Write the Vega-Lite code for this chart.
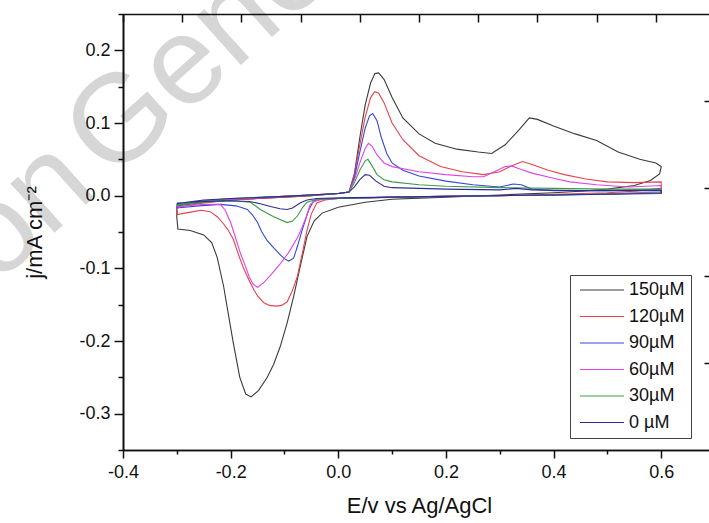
{
  "$schema": "https://vega.github.io/schema/vega-lite/v6.json",
  "width": 586,
  "height": 436,
  "autosize": {"type": "none"},
  "padding": {"left": 123, "top": 14, "right": 0, "bottom": 73},
  "background": "white",
  "config": {
    "view": {"stroke": null},
    "font": "Liberation Sans",
    "axis": {"grid": false, "domain": true, "domainColor": "#111", "tickColor": "#111", "labelColor": "#111", "titleColor": "#111", "domainWidth": 1.6, "tickWidth": 1.5, "labelFont": "Liberation Sans", "titleFont": "Liberation Sans", "titleFontWeight": "normal", "zindex": 1}
  },
  "datasets": {
    "wm": [{"label": "on", "E": -0.635, "j": -0.1229}, {"label": "Gener", "E": -0.4229, "j": 0.0185}],
    "cv": [
      {"c":"150µM","i":0,"E":-0.30,"j":-0.014},{"c":"150µM","i":1,"E":-0.25,"j":-0.009},{"c":"150µM","i":2,"E":-0.20,"j":-0.006},{"c":"150µM","i":3,"E":-0.15,"j":-0.004},{"c":"150µM","i":4,"E":-0.10,"j":-0.002},{"c":"150µM","i":5,"E":-0.05,"j":0.000},{"c":"150µM","i":6,"E":0.00,"j":0.003},{"c":"150µM","i":7,"E":0.02,"j":0.005},{"c":"150µM","i":8,"E":0.03,"j":0.030},{"c":"150µM","i":9,"E":0.04,"j":0.080},{"c":"150µM","i":10,"E":0.05,"j":0.125},{"c":"150µM","i":11,"E":0.06,"j":0.155},{"c":"150µM","i":12,"E":0.068,"j":0.168},{"c":"150µM","i":13,"E":0.075,"j":0.169},{"c":"150µM","i":14,"E":0.085,"j":0.160},{"c":"150µM","i":15,"E":0.10,"j":0.135},{"c":"150µM","i":16,"E":0.12,"j":0.107},{"c":"150µM","i":17,"E":0.15,"j":0.085},{"c":"150µM","i":18,"E":0.18,"j":0.072},{"c":"150µM","i":19,"E":0.22,"j":0.064},{"c":"150µM","i":20,"E":0.26,"j":0.060},{"c":"150µM","i":21,"E":0.285,"j":0.058},{"c":"150µM","i":22,"E":0.31,"j":0.070},{"c":"150µM","i":23,"E":0.335,"j":0.090},{"c":"150µM","i":24,"E":0.355,"j":0.107},{"c":"150µM","i":25,"E":0.37,"j":0.105},{"c":"150µM","i":26,"E":0.40,"j":0.096},{"c":"150µM","i":27,"E":0.44,"j":0.085},{"c":"150µM","i":28,"E":0.48,"j":0.076},{"c":"150µM","i":29,"E":0.52,"j":0.060},{"c":"150µM","i":30,"E":0.56,"j":0.050},{"c":"150µM","i":31,"E":0.59,"j":0.045},{"c":"150µM","i":32,"E":0.60,"j":0.040},{"c":"150µM","i":33,"E":0.597,"j":0.030},{"c":"150µM","i":34,"E":0.58,"j":0.021},{"c":"150µM","i":35,"E":0.55,"j":0.014},{"c":"150µM","i":36,"E":0.50,"j":0.009},{"c":"150µM","i":37,"E":0.45,"j":0.006},{"c":"150µM","i":38,"E":0.40,"j":0.004},{"c":"150µM","i":39,"E":0.30,"j":0.001},{"c":"150µM","i":40,"E":0.20,"j":-0.002},{"c":"150µM","i":41,"E":0.10,"j":-0.005},{"c":"150µM","i":42,"E":0.05,"j":-0.009},{"c":"150µM","i":43,"E":0.00,"j":-0.016},{"c":"150µM","i":44,"E":-0.03,"j":-0.024},{"c":"150µM","i":45,"E":-0.045,"j":-0.035},{"c":"150µM","i":46,"E":-0.058,"j":-0.056},{"c":"150µM","i":47,"E":-0.07,"j":-0.095},{"c":"150µM","i":48,"E":-0.083,"j":-0.139},{"c":"150µM","i":49,"E":-0.095,"j":-0.175},{"c":"150µM","i":50,"E":-0.108,"j":-0.208},{"c":"150µM","i":51,"E":-0.12,"j":-0.232},{"c":"150µM","i":52,"E":-0.132,"j":-0.250},{"c":"150µM","i":53,"E":-0.148,"j":-0.268},{"c":"150µM","i":54,"E":-0.162,"j":-0.277},{"c":"150µM","i":55,"E":-0.172,"j":-0.273},{"c":"150µM","i":56,"E":-0.183,"j":-0.250},{"c":"150µM","i":57,"E":-0.195,"j":-0.203},{"c":"150µM","i":58,"E":-0.205,"j":-0.160},{"c":"150µM","i":59,"E":-0.213,"j":-0.125},{"c":"150µM","i":60,"E":-0.225,"j":-0.085},{"c":"150µM","i":61,"E":-0.235,"j":-0.065},{"c":"150µM","i":62,"E":-0.25,"j":-0.054},{"c":"150µM","i":63,"E":-0.275,"j":-0.048},{"c":"150µM","i":64,"E":-0.298,"j":-0.046},{"c":"150µM","i":65,"E":-0.30,"j":-0.030},{"c":"150µM","i":66,"E":-0.30,"j":-0.014},

      {"c":"120µM","i":0,"E":-0.30,"j":-0.016},{"c":"120µM","i":1,"E":-0.25,"j":-0.010},{"c":"120µM","i":2,"E":-0.20,"j":-0.006},{"c":"120µM","i":3,"E":-0.15,"j":-0.004},{"c":"120µM","i":4,"E":-0.10,"j":-0.002},{"c":"120µM","i":5,"E":-0.05,"j":0.000},{"c":"120µM","i":6,"E":0.00,"j":0.003},{"c":"120µM","i":7,"E":0.02,"j":0.005},{"c":"120µM","i":8,"E":0.03,"j":0.030},{"c":"120µM","i":9,"E":0.04,"j":0.070},{"c":"120µM","i":10,"E":0.05,"j":0.108},{"c":"120µM","i":11,"E":0.06,"j":0.135},{"c":"120µM","i":12,"E":0.068,"j":0.143},{"c":"120µM","i":13,"E":0.075,"j":0.141},{"c":"120µM","i":14,"E":0.085,"j":0.128},{"c":"120µM","i":15,"E":0.10,"j":0.100},{"c":"120µM","i":16,"E":0.12,"j":0.077},{"c":"120µM","i":17,"E":0.15,"j":0.055},{"c":"120µM","i":18,"E":0.19,"j":0.040},{"c":"120µM","i":19,"E":0.23,"j":0.033},{"c":"120µM","i":20,"E":0.27,"j":0.029},{"c":"120µM","i":21,"E":0.30,"j":0.033},{"c":"120µM","i":22,"E":0.325,"j":0.042},{"c":"120µM","i":23,"E":0.342,"j":0.047},{"c":"120µM","i":24,"E":0.36,"j":0.043},{"c":"120µM","i":25,"E":0.39,"j":0.035},{"c":"120µM","i":26,"E":0.42,"j":0.029},{"c":"120µM","i":27,"E":0.46,"j":0.023},{"c":"120µM","i":28,"E":0.50,"j":0.019},{"c":"120µM","i":29,"E":0.55,"j":0.018},{"c":"120µM","i":30,"E":0.60,"j":0.019},{"c":"120µM","i":31,"E":0.60,"j":0.010},{"c":"120µM","i":32,"E":0.55,"j":0.006},{"c":"120µM","i":33,"E":0.50,"j":0.004},{"c":"120µM","i":34,"E":0.40,"j":0.002},{"c":"120µM","i":35,"E":0.30,"j":0.000},{"c":"120µM","i":36,"E":0.20,"j":-0.001},{"c":"120µM","i":37,"E":0.10,"j":-0.002},{"c":"120µM","i":38,"E":0.05,"j":-0.003},{"c":"120µM","i":39,"E":0.00,"j":-0.004},{"c":"120µM","i":40,"E":-0.025,"j":-0.006},{"c":"120µM","i":41,"E":-0.04,"j":-0.010},{"c":"120µM","i":42,"E":-0.05,"j":-0.025},{"c":"120µM","i":43,"E":-0.058,"j":-0.047},{"c":"120µM","i":44,"E":-0.067,"j":-0.080},{"c":"120µM","i":45,"E":-0.076,"j":-0.111},{"c":"120µM","i":46,"E":-0.086,"j":-0.132},{"c":"120µM","i":47,"E":-0.095,"j":-0.146},{"c":"120µM","i":48,"E":-0.105,"j":-0.151},{"c":"120µM","i":49,"E":-0.115,"j":-0.152},{"c":"120µM","i":50,"E":-0.128,"j":-0.151},{"c":"120µM","i":51,"E":-0.139,"j":-0.147},{"c":"120µM","i":52,"E":-0.150,"j":-0.138},{"c":"120µM","i":53,"E":-0.157,"j":-0.129},{"c":"120µM","i":54,"E":-0.166,"j":-0.116},{"c":"120µM","i":55,"E":-0.176,"j":-0.100},{"c":"120µM","i":56,"E":-0.186,"j":-0.080},{"c":"120µM","i":57,"E":-0.195,"j":-0.060},{"c":"120µM","i":58,"E":-0.205,"j":-0.047},{"c":"120µM","i":59,"E":-0.213,"j":-0.039},{"c":"120µM","i":60,"E":-0.225,"j":-0.029},{"c":"120µM","i":61,"E":-0.238,"j":-0.022},{"c":"120µM","i":62,"E":-0.255,"j":-0.020},{"c":"120µM","i":63,"E":-0.269,"j":-0.022},{"c":"120µM","i":64,"E":-0.285,"j":-0.024},{"c":"120µM","i":65,"E":-0.299,"j":-0.026},{"c":"120µM","i":66,"E":-0.30,"j":-0.016},

      {"c":"90µM","i":0,"E":-0.30,"j":-0.013},{"c":"90µM","i":1,"E":-0.25,"j":-0.008},{"c":"90µM","i":2,"E":-0.20,"j":-0.005},{"c":"90µM","i":3,"E":-0.15,"j":-0.003},{"c":"90µM","i":4,"E":-0.10,"j":-0.001},{"c":"90µM","i":5,"E":-0.05,"j":0.001},{"c":"90µM","i":6,"E":0.00,"j":0.003},{"c":"90µM","i":7,"E":0.02,"j":0.005},{"c":"90µM","i":8,"E":0.03,"j":0.025},{"c":"90µM","i":9,"E":0.04,"j":0.060},{"c":"90µM","i":10,"E":0.05,"j":0.093},{"c":"90µM","i":11,"E":0.058,"j":0.110},{"c":"90µM","i":12,"E":0.064,"j":0.113},{"c":"90µM","i":13,"E":0.072,"j":0.103},{"c":"90µM","i":14,"E":0.08,"j":0.080},{"c":"90µM","i":15,"E":0.09,"j":0.058},{"c":"90µM","i":16,"E":0.10,"j":0.045},{"c":"90µM","i":17,"E":0.12,"j":0.035},{"c":"90µM","i":18,"E":0.15,"j":0.027},{"c":"90µM","i":19,"E":0.20,"j":0.020},{"c":"90µM","i":20,"E":0.25,"j":0.015},{"c":"90µM","i":21,"E":0.30,"j":0.012},{"c":"90µM","i":22,"E":0.325,"j":0.016},{"c":"90µM","i":23,"E":0.34,"j":0.015},{"c":"90µM","i":24,"E":0.36,"j":0.009},{"c":"90µM","i":25,"E":0.40,"j":0.007},{"c":"90µM","i":26,"E":0.50,"j":0.007},{"c":"90µM","i":27,"E":0.60,"j":0.009},{"c":"90µM","i":28,"E":0.60,"j":0.004},{"c":"90µM","i":29,"E":0.50,"j":0.002},{"c":"90µM","i":30,"E":0.40,"j":0.001},{"c":"90µM","i":31,"E":0.30,"j":0.000},{"c":"90µM","i":32,"E":0.20,"j":-0.001},{"c":"90µM","i":33,"E":0.10,"j":-0.002},{"c":"90µM","i":34,"E":0.00,"j":-0.004},{"c":"90µM","i":35,"E":-0.03,"j":-0.005},{"c":"90µM","i":36,"E":-0.046,"j":-0.007},{"c":"90µM","i":37,"E":-0.055,"j":-0.020},{"c":"90µM","i":38,"E":-0.067,"j":-0.047},{"c":"90µM","i":39,"E":-0.076,"j":-0.070},{"c":"90µM","i":40,"E":-0.083,"j":-0.086},{"c":"90µM","i":41,"E":-0.092,"j":-0.090},{"c":"90µM","i":42,"E":-0.100,"j":-0.087},{"c":"90µM","i":43,"E":-0.108,"j":-0.081},{"c":"90µM","i":44,"E":-0.120,"j":-0.072},{"c":"90µM","i":45,"E":-0.132,"j":-0.062},{"c":"90µM","i":46,"E":-0.142,"j":-0.050},{"c":"90µM","i":47,"E":-0.150,"j":-0.037},{"c":"90µM","i":48,"E":-0.160,"j":-0.026},{"c":"90µM","i":49,"E":-0.169,"j":-0.019},{"c":"90µM","i":50,"E":-0.19,"j":-0.014},{"c":"90µM","i":51,"E":-0.219,"j":-0.012},{"c":"90µM","i":52,"E":-0.26,"j":-0.014},{"c":"90µM","i":53,"E":-0.299,"j":-0.017},{"c":"90µM","i":54,"E":-0.30,"j":-0.013},

      {"c":"60µM","i":0,"E":-0.30,"j":-0.012},{"c":"60µM","i":1,"E":-0.25,"j":-0.007},{"c":"60µM","i":2,"E":-0.20,"j":-0.005},{"c":"60µM","i":3,"E":-0.15,"j":-0.003},{"c":"60µM","i":4,"E":-0.10,"j":-0.001},{"c":"60µM","i":5,"E":-0.05,"j":0.001},{"c":"60µM","i":6,"E":0.00,"j":0.003},{"c":"60µM","i":7,"E":0.02,"j":0.005},{"c":"60µM","i":8,"E":0.03,"j":0.022},{"c":"60µM","i":9,"E":0.04,"j":0.045},{"c":"60µM","i":10,"E":0.05,"j":0.065},{"c":"60µM","i":11,"E":0.056,"j":0.072},{"c":"60µM","i":12,"E":0.063,"j":0.068},{"c":"60µM","i":13,"E":0.072,"j":0.056},{"c":"60µM","i":14,"E":0.085,"j":0.045},{"c":"60µM","i":15,"E":0.10,"j":0.040},{"c":"60µM","i":16,"E":0.15,"j":0.033},{"c":"60µM","i":17,"E":0.20,"j":0.029},{"c":"60µM","i":18,"E":0.25,"j":0.026},{"c":"60µM","i":19,"E":0.27,"j":0.026},{"c":"60µM","i":20,"E":0.29,"j":0.033},{"c":"60µM","i":21,"E":0.31,"j":0.040},{"c":"60µM","i":22,"E":0.322,"j":0.041},{"c":"60µM","i":23,"E":0.34,"j":0.036},{"c":"60µM","i":24,"E":0.36,"j":0.031},{"c":"60µM","i":25,"E":0.40,"j":0.024},{"c":"60µM","i":26,"E":0.43,"j":0.019},{"c":"60µM","i":27,"E":0.48,"j":0.015},{"c":"60µM","i":28,"E":0.54,"j":0.012},{"c":"60µM","i":29,"E":0.60,"j":0.014},{"c":"60µM","i":30,"E":0.60,"j":0.005},{"c":"60µM","i":31,"E":0.50,"j":0.003},{"c":"60µM","i":32,"E":0.40,"j":0.001},{"c":"60µM","i":33,"E":0.30,"j":0.000},{"c":"60µM","i":34,"E":0.20,"j":-0.001},{"c":"60µM","i":35,"E":0.10,"j":-0.002},{"c":"60µM","i":36,"E":0.00,"j":-0.004},{"c":"60µM","i":37,"E":-0.03,"j":-0.005},{"c":"60µM","i":38,"E":-0.045,"j":-0.008},{"c":"60µM","i":39,"E":-0.052,"j":-0.012},{"c":"60µM","i":40,"E":-0.060,"j":-0.030},{"c":"60µM","i":41,"E":-0.068,"j":-0.045},{"c":"60µM","i":42,"E":-0.076,"j":-0.058},{"c":"60µM","i":43,"E":-0.092,"j":-0.078},{"c":"60µM","i":44,"E":-0.108,"j":-0.094},{"c":"60µM","i":45,"E":-0.124,"j":-0.108},{"c":"60µM","i":46,"E":-0.139,"j":-0.120},{"c":"60µM","i":47,"E":-0.150,"j":-0.126},{"c":"60µM","i":48,"E":-0.158,"j":-0.122},{"c":"60µM","i":49,"E":-0.165,"j":-0.113},{"c":"60µM","i":50,"E":-0.172,"j":-0.098},{"c":"60µM","i":51,"E":-0.182,"j":-0.079},{"c":"60µM","i":52,"E":-0.190,"j":-0.060},{"c":"60µM","i":53,"E":-0.200,"j":-0.037},{"c":"60µM","i":54,"E":-0.210,"j":-0.020},{"c":"60µM","i":55,"E":-0.219,"j":-0.012},{"c":"60µM","i":56,"E":-0.25,"j":-0.012},{"c":"60µM","i":57,"E":-0.299,"j":-0.015},{"c":"60µM","i":58,"E":-0.30,"j":-0.012},

      {"c":"30µM","i":0,"E":-0.30,"j":-0.012},{"c":"30µM","i":1,"E":-0.25,"j":-0.007},{"c":"30µM","i":2,"E":-0.20,"j":-0.004},{"c":"30µM","i":3,"E":-0.10,"j":-0.001},{"c":"30µM","i":4,"E":0.00,"j":0.003},{"c":"30µM","i":5,"E":0.02,"j":0.005},{"c":"30µM","i":6,"E":0.03,"j":0.018},{"c":"30µM","i":7,"E":0.04,"j":0.035},{"c":"30µM","i":8,"E":0.05,"j":0.048},{"c":"30µM","i":9,"E":0.055,"j":0.050},{"c":"30µM","i":10,"E":0.062,"j":0.042},{"c":"30µM","i":11,"E":0.072,"j":0.029},{"c":"30µM","i":12,"E":0.085,"j":0.022},{"c":"30µM","i":13,"E":0.10,"j":0.019},{"c":"30µM","i":14,"E":0.15,"j":0.015},{"c":"30µM","i":15,"E":0.20,"j":0.013},{"c":"30µM","i":16,"E":0.30,"j":0.011},{"c":"30µM","i":17,"E":0.40,"j":0.010},{"c":"30µM","i":18,"E":0.50,"j":0.009},{"c":"30µM","i":19,"E":0.60,"j":0.009},{"c":"30µM","i":20,"E":0.60,"j":0.004},{"c":"30µM","i":21,"E":0.40,"j":0.001},{"c":"30µM","i":22,"E":0.20,"j":-0.001},{"c":"30µM","i":23,"E":0.00,"j":-0.004},{"c":"30µM","i":24,"E":-0.04,"j":-0.005},{"c":"30µM","i":25,"E":-0.058,"j":-0.009},{"c":"30µM","i":26,"E":-0.066,"j":-0.016},{"c":"30µM","i":27,"E":-0.076,"j":-0.028},{"c":"30µM","i":28,"E":-0.085,"j":-0.035},{"c":"30µM","i":29,"E":-0.095,"j":-0.037},{"c":"30µM","i":30,"E":-0.12,"j":-0.029},{"c":"30µM","i":31,"E":-0.145,"j":-0.019},{"c":"30µM","i":32,"E":-0.163,"j":-0.009},{"c":"30µM","i":33,"E":-0.20,"j":-0.007},{"c":"30µM","i":34,"E":-0.25,"j":-0.009},{"c":"30µM","i":35,"E":-0.299,"j":-0.013},{"c":"30µM","i":36,"E":-0.30,"j":-0.012},

      {"c":"0 µM","i":0,"E":-0.30,"j":-0.011},{"c":"0 µM","i":1,"E":-0.25,"j":-0.006},{"c":"0 µM","i":2,"E":-0.20,"j":-0.004},{"c":"0 µM","i":3,"E":-0.10,"j":-0.001},{"c":"0 µM","i":4,"E":0.00,"j":0.003},{"c":"0 µM","i":5,"E":0.02,"j":0.005},{"c":"0 µM","i":6,"E":0.03,"j":0.012},{"c":"0 µM","i":7,"E":0.04,"j":0.022},{"c":"0 µM","i":8,"E":0.05,"j":0.029},{"c":"0 µM","i":9,"E":0.058,"j":0.028},{"c":"0 µM","i":10,"E":0.07,"j":0.020},{"c":"0 µM","i":11,"E":0.085,"j":0.013},{"c":"0 µM","i":12,"E":0.10,"j":0.011},{"c":"0 µM","i":13,"E":0.20,"j":0.009},{"c":"0 µM","i":14,"E":0.30,"j":0.008},{"c":"0 µM","i":15,"E":0.33,"j":0.010},{"c":"0 µM","i":16,"E":0.36,"j":0.008},{"c":"0 µM","i":17,"E":0.45,"j":0.007},{"c":"0 µM","i":18,"E":0.60,"j":0.007},{"c":"0 µM","i":19,"E":0.60,"j":0.003},{"c":"0 µM","i":20,"E":0.40,"j":0.001},{"c":"0 µM","i":21,"E":0.20,"j":-0.001},{"c":"0 µM","i":22,"E":0.00,"j":-0.003},{"c":"0 µM","i":23,"E":-0.04,"j":-0.004},{"c":"0 µM","i":24,"E":-0.058,"j":-0.006},{"c":"0 µM","i":25,"E":-0.071,"j":-0.010},{"c":"0 µM","i":26,"E":-0.085,"j":-0.017},{"c":"0 µM","i":27,"E":-0.095,"j":-0.019},{"c":"0 µM","i":28,"E":-0.108,"j":-0.018},{"c":"0 µM","i":29,"E":-0.126,"j":-0.015},{"c":"0 µM","i":30,"E":-0.145,"j":-0.011},{"c":"0 µM","i":31,"E":-0.165,"j":-0.008},{"c":"0 µM","i":32,"E":-0.20,"j":-0.007},{"c":"0 µM","i":33,"E":-0.25,"j":-0.008},{"c":"0 µM","i":34,"E":-0.299,"j":-0.010},{"c":"0 µM","i":35,"E":-0.30,"j":-0.011}
    ]
  },
  "layer": [
    {
      "data": {"name": "wm"},
      "mark": {"type": "text", "align": "left", "baseline": "alphabetic", "angle": 318, "fontSize": 125, "font": "Liberation Sans", "color": "#d6d6d6", "clip": false},
      "encoding": {
        "x": {"field": "E", "type": "quantitative", "axis": null},
        "y": {"field": "j", "type": "quantitative", "axis": null},
        "text": {"field": "label"}
      }
    },
    {
      "data": {"name": "cv"},
      "mark": {"type": "line", "strokeWidth": 1.1, "clip": false},
      "encoding": {
        "x": {
          "field": "E", "type": "quantitative",
          "scale": {"domain": [-0.4, 0.6888], "nice": false, "zero": false},
          "axis": {
            "orient": "bottom",
            "zindex": 2,
            "domain": true,
            "title": "E/v vs Ag/AgCl",
            "titleFontSize": 22,
            "titlePadding": 14,
            "titleX": 296,
            "titleAnchor": "middle",
            "values": [-0.4, -0.2, 0, 0.2, 0.4, 0.6],
            "tickSize": 8,
            "labelExpr": "replace(format(datum.value, '.1f'), '\u2212', '-')",
            "labelFontSize": 18,
            "labelPadding": 5,
            "labelFlush": false,
            "labelOverlap": false
          }
        },
        "y": {
          "field": "j", "type": "quantitative",
          "scale": {"domain": [-0.35, 0.25], "nice": false, "zero": false},
          "axis": {
            "orient": "left",
            "zindex": 2,
            "domain": true,
            "title": "j/mA cm\u207b\u00b2",
            "titleFontSize": 22,
            "titlePadding": 32,
            "values": [-0.3, -0.2, -0.1, 0, 0.1, 0.2],
            "tickSize": 9,
            "labelExpr": "replace(format(datum.value, '.1f'), '\u2212', '-')",
            "labelFontSize": 18,
            "labelPadding": 4,
            "labelFlush": false,
            "labelOverlap": false
          }
        },
        "color": {
          "field": "c", "type": "nominal",
          "scale": {
            "domain": ["150µM", "120µM", "90µM", "60µM", "30µM", "0 µM"],
            "range": ["#3a3a3a", "#e8424a", "#3346de", "#e044e6", "#3c9c44", "#2e2e92"]
          },
          "legend": {
            "orient": "none",
            "legendX": 447,
            "legendY": 261,
            "title": null,
            "labelFontSize": 18,
            "labelFont": "Liberation Sans",
            "labelColor": "#111",
            "symbolType": "M-1,0H7.8",
            "symbolSize": 100,
            "symbolStrokeWidth": 1,
            "labelOffset": 35,
            "rowPadding": 8.5,
            "padding": 6,
            "strokeColor": "#444",
            "fillColor": "white",
            "zindex": 3
          }
        },
        "order": {"field": "i", "type": "quantitative"}
      }
    },
    {
      "data": {"name": "cv"},
      "mark": {"type": "line", "opacity": 0},
      "encoding": {
        "x": {
          "field": "E", "type": "quantitative",
          "axis": {"orient": "top", "zindex": 2, "title": null, "labels": false, "values": [-0.4, -0.29, -0.18, -0.07, 0.04, 0.15, 0.26, 0.37, 0.48, 0.59], "tickSize": -8, "domain": true}
        },
        "y": {
          "field": "j", "type": "quantitative",
          "axis": {"orient": "right", "zindex": 2, "title": null, "labels": false, "values": [0.13, 0.01, -0.11, -0.23], "tickSize": -5, "domain": false}
        },
        "detail": {"field": "c"},
        "order": {"field": "i", "type": "quantitative"}
      }
    },
    {
      "data": {"name": "cv"},
      "mark": {"type": "line", "opacity": 0},
      "encoding": {
        "x": {
          "field": "E", "type": "quantitative",
          "axis": {"orient": "bottom", "zindex": 2, "title": null, "labels": false, "values": [-0.3, -0.1, 0.1, 0.3, 0.5], "tickSize": 4, "domain": true}
        },
        "y": {
          "field": "j", "type": "quantitative",
          "axis": {"orient": "left", "zindex": 2, "title": null, "labels": false, "values": [-0.35, -0.25, -0.15, -0.05, 0.05, 0.15, 0.25], "tickSize": 5, "domain": true}
        },
        "detail": {"field": "c"},
        "order": {"field": "i", "type": "quantitative"}
      }
    }
  ],
  "resolve": {"axis": {"x": "independent", "y": "independent"}}
}
